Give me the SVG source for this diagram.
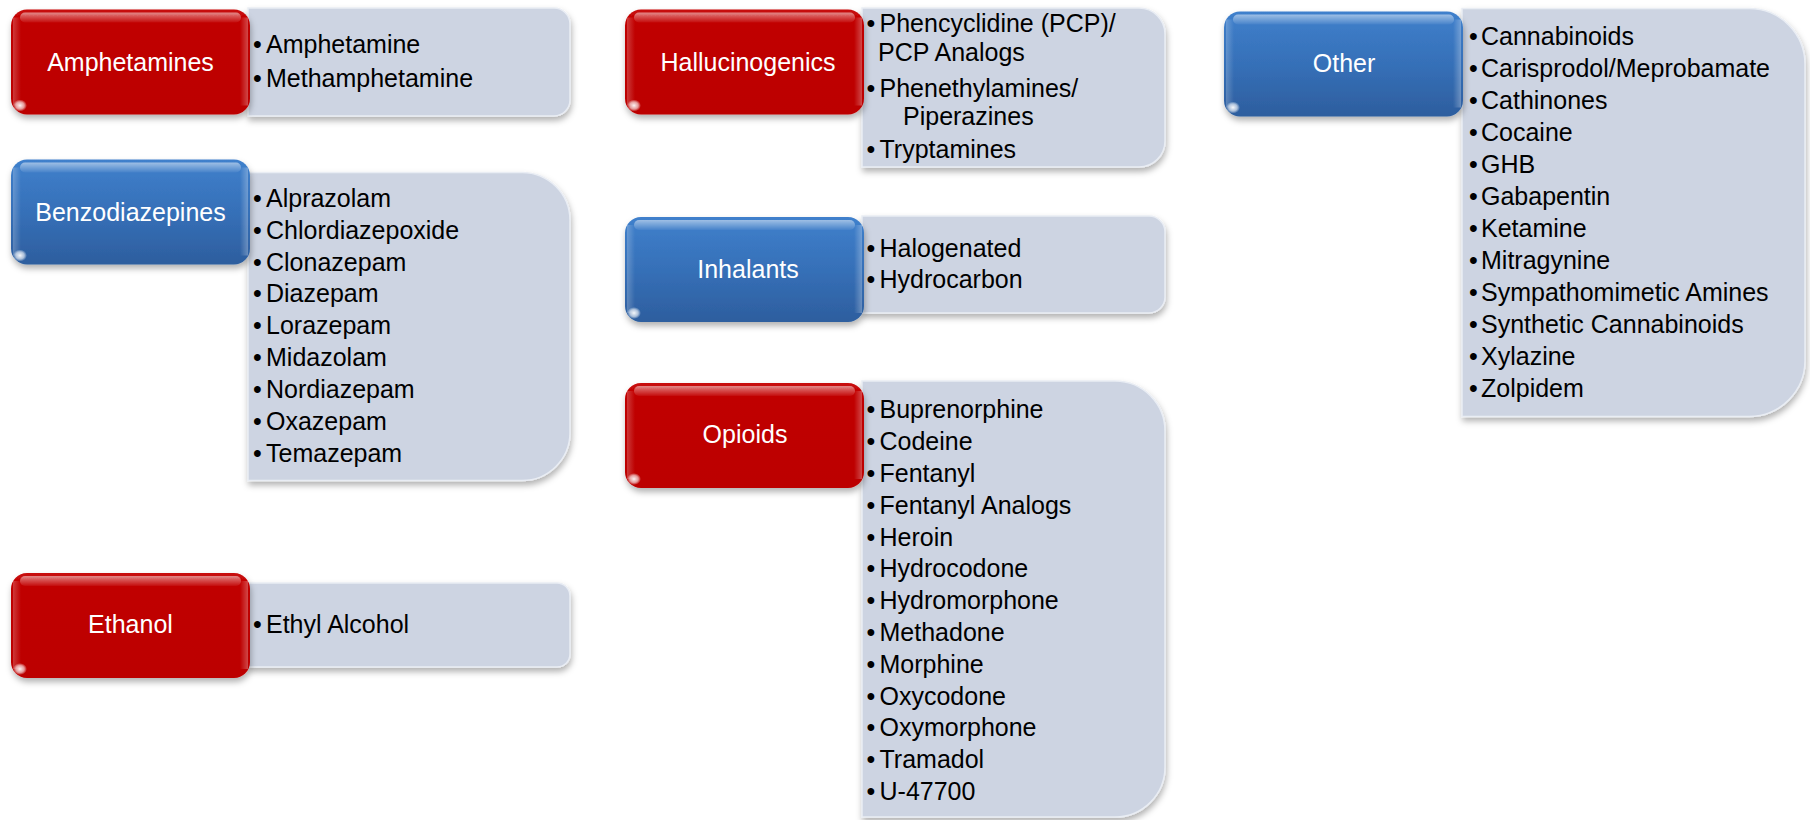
<svg xmlns="http://www.w3.org/2000/svg" xmlns:xlink="http://www.w3.org/1999/xlink" width="1810" height="820" viewBox="0 0 1810 820">
<defs>
  <filter id="shadow" x="-10%" y="-10%" width="125%" height="130%">
    <feDropShadow dx="1" dy="4" stdDeviation="3" flood-color="#000" flood-opacity="0.3"/>
  </filter>
  <linearGradient id="redGrad" x1="0" y1="0" x2="0" y2="1">
    <stop offset="0" stop-color="#C80A0A"/>
    <stop offset="0.15" stop-color="#C00000"/>
    <stop offset="1" stop-color="#BC0000"/>
  </linearGradient>
  <linearGradient id="blueGrad" x1="0" y1="0" x2="0" y2="1">
    <stop offset="0" stop-color="#3F80CC"/>
    <stop offset="0.5" stop-color="#3670B8"/>
    <stop offset="1" stop-color="#2D5E9E"/>
  </linearGradient>
  <linearGradient id="gloss" x1="0" y1="0" x2="0" y2="1">
    <stop offset="0" stop-color="#fff" stop-opacity="0.5"/>
    <stop offset="1" stop-color="#fff" stop-opacity="0.05"/>
  </linearGradient>
  <linearGradient id="sideL" x1="0" y1="0" x2="1" y2="0">
    <stop offset="0" stop-color="#fff" stop-opacity="0.22"/>
    <stop offset="1" stop-color="#fff" stop-opacity="0"/>
  </linearGradient>
  <linearGradient id="sideR" x1="1" y1="0" x2="0" y2="0">
    <stop offset="0" stop-color="#fff" stop-opacity="0.28"/>
    <stop offset="1" stop-color="#fff" stop-opacity="0"/>
  </linearGradient>
  <radialGradient id="glare" cx="0.5" cy="0.5" r="0.5">
    <stop offset="0" stop-color="#fff" stop-opacity="0.95"/>
    <stop offset="0.6" stop-color="#fff" stop-opacity="0.6"/>
    <stop offset="1" stop-color="#fff" stop-opacity="0"/>
  </radialGradient>
  <g id="redBox">
    <rect x="0" y="0" width="239" height="105" rx="16" fill="url(#redGrad)" filter="url(#shadow)"/>
    <rect x="2" y="8" width="8" height="88" fill="url(#sideL)"/>
    <rect x="229" y="8" width="8" height="88" fill="url(#sideR)"/>
    <rect x="9" y="3" width="221" height="10" rx="5" fill="url(#gloss)"/>
    <ellipse cx="9" cy="96" rx="7" ry="6" fill="url(#glare)"/>
  </g>
  <g id="blueBox">
    <rect x="0" y="0" width="239" height="105" rx="16" fill="url(#blueGrad)" filter="url(#shadow)"/>
    <rect x="2" y="8" width="8" height="88" fill="url(#sideL)"/>
    <rect x="229" y="8" width="8" height="88" fill="url(#sideR)"/>
    <rect x="9" y="3" width="221" height="10" rx="5" fill="url(#gloss)"/>
    <ellipse cx="9" cy="96" rx="7" ry="6" fill="url(#glare)"/>
  </g>
</defs>
<style>
  .grey { fill: #CDD4E2; stroke: #E9EDF4; stroke-width: 1.5; filter: url(#shadow); }
  .lbl { font-family: "Liberation Sans", Arial, sans-serif; font-size: 25px; fill: #FFFFFF; text-anchor: middle; }
  .item { font-family: "Liberation Sans", Arial, sans-serif; font-size: 25px; fill: #000000; }
</style>
<rect width="1810" height="820" fill="#FFFFFF"/>

<g id="connectors"></g>

<g id="node-amphetamines">
  <path class="grey" d="M248,8 H554 A16,16 0 0 1 570,24 V100 A16,16 0 0 1 554,116 H248 Z"/>
  <use xlink:href="#redBox" x="11" y="9.5"/>
  <text class="lbl" x="130.5" y="70.7">Amphetamines</text>
  <text class="item" y="53.3"><tspan x="253">•</tspan><tspan x="266">Amphetamine</tspan></text>
  <text class="item" y="87.3"><tspan x="253">•</tspan><tspan x="266">Methamphetamine</tspan></text>
</g>

<g id="node-benzodiazepines">
  <path class="grey" d="M248,172.5 H522 A48,48 0 0 1 570,220.5 V432.5 A48,48 0 0 1 522,480.5 H248 Z"/>
  <use xlink:href="#blueBox" x="11" y="159.5"/>
  <text class="lbl" x="130.5" y="221">Benzodiazepines</text>
  <text class="item" y="206.7"><tspan x="253">•</tspan><tspan x="266">Alprazolam</tspan></text>
  <text class="item" y="238.6"><tspan x="253">•</tspan><tspan x="266">Chlordiazepoxide</tspan></text>
  <text class="item" y="270.5"><tspan x="253">•</tspan><tspan x="266">Clonazepam</tspan></text>
  <text class="item" y="302.4"><tspan x="253">•</tspan><tspan x="266">Diazepam</tspan></text>
  <text class="item" y="334.3"><tspan x="253">•</tspan><tspan x="266">Lorazepam</tspan></text>
  <text class="item" y="366.2"><tspan x="253">•</tspan><tspan x="266">Midazolam</tspan></text>
  <text class="item" y="398.1"><tspan x="253">•</tspan><tspan x="266">Nordiazepam</tspan></text>
  <text class="item" y="430"><tspan x="253">•</tspan><tspan x="266">Oxazepam</tspan></text>
  <text class="item" y="461.9"><tspan x="253">•</tspan><tspan x="266">Temazepam</tspan></text>
</g>

<g id="node-ethanol">
  <path class="grey" d="M248,583 H557 A13,13 0 0 1 570,596 V654 A13,13 0 0 1 557,667 H248 Z"/>
  <use xlink:href="#redBox" x="11" y="573"/>
  <text class="lbl" x="130.5" y="633.3">Ethanol</text>
  <text class="item" y="633.3"><tspan x="253">•</tspan><tspan x="266">Ethyl Alcohol</tspan></text>
</g>

<g id="node-hallucinogenics">
  <path class="grey" d="M862,8 H1139 A26,26 0 0 1 1165,34 V141 A26,26 0 0 1 1139,167 H862 Z"/>
  <use xlink:href="#redBox" x="625" y="9.5"/>
  <text class="lbl" x="748" y="70.7">Hallucinogenics</text>
  <text class="item" y="31.7"><tspan x="866.5">•</tspan><tspan x="879.5">Phencyclidine (PCP)/</tspan></text>
  <text class="item" x="878" y="61">PCP Analogs</text>
  <text class="item" y="96.7"><tspan x="866.5">•</tspan><tspan x="879.5">Phenethylamines/</tspan></text>
  <text class="item" x="903" y="125">Piperazines</text>
  <text class="item" y="158"><tspan x="866.5">•</tspan><tspan x="879.5">Tryptamines</tspan></text>
</g>

<g id="node-inhalants">
  <path class="grey" d="M862,216 H1149 A16,16 0 0 1 1165,232 V297 A16,16 0 0 1 1149,313 H862 Z"/>
  <use xlink:href="#blueBox" x="625" y="217"/>
  <text class="lbl" x="748" y="278.3">Inhalants</text>
  <text class="item" y="256.7"><tspan x="866.5">•</tspan><tspan x="879.5">Halogenated</tspan></text>
  <text class="item" y="288.3"><tspan x="866.5">•</tspan><tspan x="879.5">Hydrocarbon</tspan></text>
</g>

<g id="node-opioids">
  <path class="grey" d="M862,381 H1115 A50,50 0 0 1 1165,431 V767 A50,50 0 0 1 1115,817 H862 Z"/>
  <use xlink:href="#redBox" x="625" y="383"/>
  <text class="lbl" x="745" y="443.3">Opioids</text>
  <text class="item" y="418.3"><tspan x="866.5">•</tspan><tspan x="879.5">Buprenorphine</tspan></text>
  <text class="item" y="450.1"><tspan x="866.5">•</tspan><tspan x="879.5">Codeine</tspan></text>
  <text class="item" y="481.9"><tspan x="866.5">•</tspan><tspan x="879.5">Fentanyl</tspan></text>
  <text class="item" y="513.7"><tspan x="866.5">•</tspan><tspan x="879.5">Fentanyl Analogs</tspan></text>
  <text class="item" y="545.5"><tspan x="866.5">•</tspan><tspan x="879.5">Heroin</tspan></text>
  <text class="item" y="577.3"><tspan x="866.5">•</tspan><tspan x="879.5">Hydrocodone</tspan></text>
  <text class="item" y="609.1"><tspan x="866.5">•</tspan><tspan x="879.5">Hydromorphone</tspan></text>
  <text class="item" y="640.9"><tspan x="866.5">•</tspan><tspan x="879.5">Methadone</tspan></text>
  <text class="item" y="672.7"><tspan x="866.5">•</tspan><tspan x="879.5">Morphine</tspan></text>
  <text class="item" y="704.5"><tspan x="866.5">•</tspan><tspan x="879.5">Oxycodone</tspan></text>
  <text class="item" y="736.3"><tspan x="866.5">•</tspan><tspan x="879.5">Oxymorphone</tspan></text>
  <text class="item" y="768.1"><tspan x="866.5">•</tspan><tspan x="879.5">Tramadol</tspan></text>
  <text class="item" y="799.9"><tspan x="866.5">•</tspan><tspan x="879.5">U-47700</tspan></text>
</g>

<g id="node-other">
  <path class="grey" d="M1462,8.5 H1749 A56,56 0 0 1 1805,64.5 V360.5 A56,56 0 0 1 1749,416.5 H1462 Z"/>
  <use xlink:href="#blueBox" x="1224" y="11.5"/>
  <text class="lbl" x="1344" y="71.7">Other</text>
  <text class="item" y="45"><tspan x="1469">•</tspan><tspan x="1481">Cannabinoids</tspan></text>
  <text class="item" y="77"><tspan x="1469">•</tspan><tspan x="1481">Carisprodol/Meprobamate</tspan></text>
  <text class="item" y="108.9"><tspan x="1469">•</tspan><tspan x="1481">Cathinones</tspan></text>
  <text class="item" y="140.9"><tspan x="1469">•</tspan><tspan x="1481">Cocaine</tspan></text>
  <text class="item" y="172.9"><tspan x="1469">•</tspan><tspan x="1481">GHB</tspan></text>
  <text class="item" y="204.9"><tspan x="1469">•</tspan><tspan x="1481">Gabapentin</tspan></text>
  <text class="item" y="236.8"><tspan x="1469">•</tspan><tspan x="1481">Ketamine</tspan></text>
  <text class="item" y="268.8"><tspan x="1469">•</tspan><tspan x="1481">Mitragynine</tspan></text>
  <text class="item" y="300.8"><tspan x="1469">•</tspan><tspan x="1481">Sympathomimetic Amines</tspan></text>
  <text class="item" y="332.7"><tspan x="1469">•</tspan><tspan x="1481">Synthetic Cannabinoids</tspan></text>
  <text class="item" y="364.7"><tspan x="1469">•</tspan><tspan x="1481">Xylazine</tspan></text>
  <text class="item" y="396.7"><tspan x="1469">•</tspan><tspan x="1481">Zolpidem</tspan></text>
</g>
</svg>
